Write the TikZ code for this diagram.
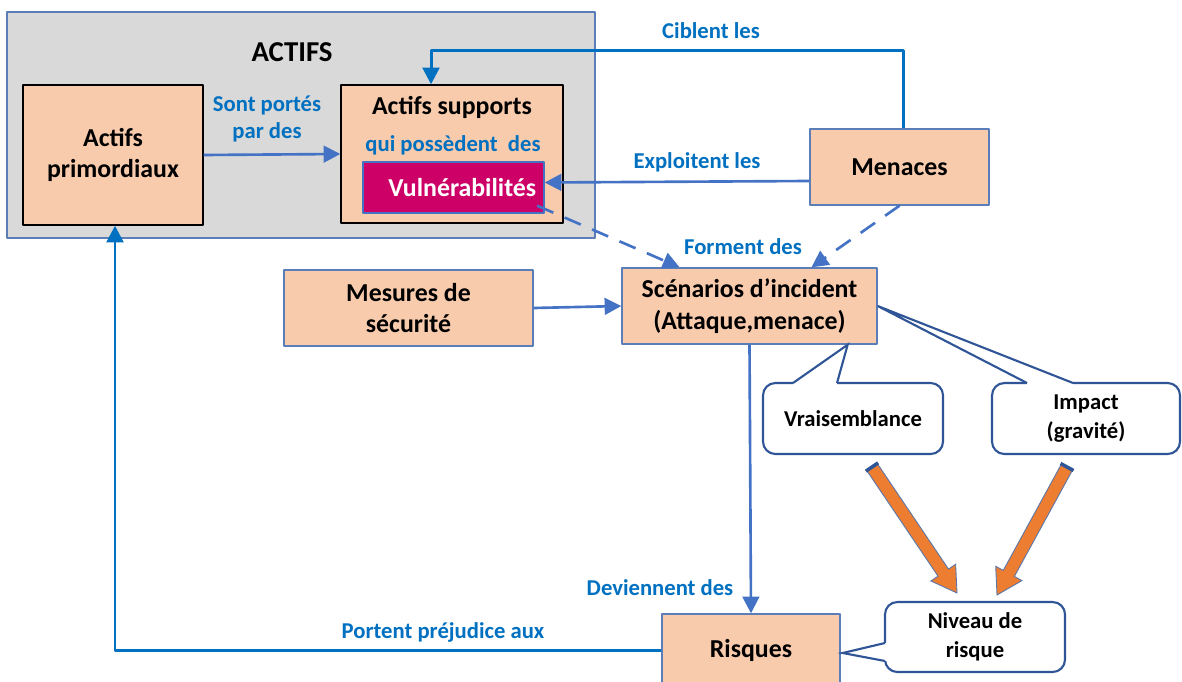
\documentclass[tikz,border=0pt]{standalone}
\usepackage{fontspec}
\setmainfont{Carlito}
\usetikzlibrary{arrows.meta,calc}
\definecolor{peach}{HTML}{F8CBAD}
\definecolor{grisbg}{HTML}{D9D9D9}
\definecolor{bordbleu}{HTML}{5B7DB8}
\definecolor{lienbleu}{HTML}{4472C4}
\definecolor{fortbleu}{HTML}{0070C0}
\definecolor{bullebleu}{HTML}{2F5597}
\definecolor{vulnrose}{HTML}{CC0066}
\definecolor{orangefl}{HTML}{ED7D31}

% fleche orange epaisse : depart, pointe
\newcommand{\fatarrow}[2]{%
  \coordinate (h) at ($(#2)!14pt!(#1)$);
  \filldraw[fill=orangefl, draw=bullebleu!80, line width=0.5pt, line join=miter]
    ($(#1)!3.6pt!-90:(#2)$) -- ($(h)!3.6pt!-90:(#2)$) -- ($(h)!8.5pt!-90:(#2)$) -- (#2)
    -- ($(h)!8.5pt!90:(#2)$) -- ($(h)!3.6pt!90:(#2)$) -- ($(#1)!3.6pt!90:(#2)$) -- cycle;
  \draw[bullebleu, line width=2pt] ($(#1)!4.2pt!-90:(#2)$) -- ($(#1)!4.2pt!90:(#2)$);
}
% pointe de bulle : base, pointe, base
\newcommand{\bulleptr}[3]{%
  \fill[white] (#1) -- (#2) -- (#3) -- cycle;
  \draw[white, line width=2pt] (#1) -- (#3);
  \draw[bullebleu, line width=1.2pt, line join=miter] (#1) -- (#2) -- (#3);
}

\begin{document}
\begin{tikzpicture}[x=0.02cm, y=-0.02cm, line join=bevel]
  \tikzstyle{box}=[draw=bordbleu, fill=peach, line width=0.8pt, align=center, inner sep=0pt, font=\fontsize{14.7}{18}\selectfont\bfseries]
  \tikzstyle{bulle}=[draw=bullebleu, fill=white, rounded corners=7pt, line width=1.2pt, align=center, inner sep=0pt, font=\fontsize{12.9}{16.4}\selectfont\bfseries]
  \tikzstyle{lbl}=[text=fortbleu, align=center, font=\fontsize{12.9}{15.3}\selectfont\bfseries]
  \tikzstyle{link}=[draw=lienbleu, line width=1.5pt, -{Triangle[length=9.5pt,width=9.5pt]}]
  \tikzstyle{linkf}=[draw=fortbleu, line width=1.7pt, -{Triangle[length=9.5pt,width=9.5pt]}]
  \tikzstyle{dlink}=[link, dash pattern=on 10pt off 7pt]
  \useasboundingbox (0,0) rectangle (1182,682);

  % groupe des actifs
  \node[draw=bordbleu, fill=grisbg, line width=0.8pt, minimum width=11.76cm, minimum height=4.52cm] (actifs) at (301,125) {};
  \node[font=\fontsize{16.4}{19}\selectfont\bfseries] (titre) at (292,52) {ACTIFS};
  \node[box, draw=black, minimum width=3.6cm, minimum height=2.8cm] (prim) at (113,155) {Actifs\\primordiaux};
  \node[box, draw=black, minimum width=4.44cm, minimum height=2.76cm] (supp) at (452,154) {};
  \node[font=\fontsize{14.7}{18}\selectfont\bfseries] (supt) at (452,107) {Actifs supports};
  \node[lbl] (poss) at (453,145) {qui possèdent\ \ des};
  \node[box, fill=vulnrose, draw=lienbleu, text=white, minimum width=3.62cm, minimum height=1.02cm] (vuln) at (453.5,187.5) {\hspace{10pt}Vulnérabilités};

  % autres blocs
  \node[box, minimum width=3.58cm, minimum height=1.52cm] (men) at (899.5,167) {Menaces};
  \node[box, minimum width=5.1cm, minimum height=1.52cm] (scen) at (749.5,306) {Scénarios d’incident\\(Attaque,menace)};
  \node[box, minimum width=4.98cm, minimum height=1.52cm] (mes) at (408.5,308) {Mesures de\\sécurité};
  \node[box, minimum width=3.56cm, minimum height=1.44cm] (risq) at (751,650) {Risques};

  % bulles
  \node[bulle, minimum width=3.6cm, minimum height=1.42cm] (vrai) at (853,418.5) {Vraisemblance};
  \node[bulle, minimum width=3.76cm, minimum height=1.42cm] (imp) at (1086,418.5) {Impact\\(gravité)};
  \node[bulle, minimum width=3.6cm, minimum height=1.4cm] (niv) at (975,637) {Niveau de\\risque};

  \coordinate (v1) at (793,383);
  \coordinate (v2) at (837,383);
  \coordinate (i1) at (1027,383);
  \coordinate (i2) at (1073,383);
  \coordinate (n1) at (885,643);
  \coordinate (n2) at (885,661);
  \bulleptr{v1}{$(scen.south east)+(-30,0)$}{v2}
  \bulleptr{i1}{scen.east}{i2}
  \bulleptr{n1}{$(risq.east)+(2,3)$}{n2}

  % liens
  \path (prim.east) edge[link] (supp.west)
        ([yshift=-0.28cm]men.west) edge[link] ([yshift=0.1cm]vuln.east)
        (mes.east) edge[link] (scen.west)
        (scen.south) edge[link] (risq.north)
        ([xshift=-0.15cm,yshift=0.16cm]vuln.south east) edge[dlink] ([xshift=-1.4cm]scen.north)
        (men.south) edge[dlink] ([xshift=1.24cm]scen.north);
  \draw[linkf] ([xshift=0.07cm]men.north) -- ++(0,-78) -| ([xshift=-0.42cm]supp.north);
  \draw[linkf] (risq.west) -| ([xshift=0.04cm]prim.south);

  % etiquettes des liens
  \node[lbl] (l1) at (267,119) {Sont portés\\par des};
  \node[lbl] (l2) at (711,31) {Ciblent les};
  \node[lbl] (l3) at (697,162) {Exploitent les};
  \node[lbl] (l4) at (743,247) {Forment des};
  \node[lbl] (l5) at (660,588) {Deviennent des};
  \node[lbl] (l6) at (443,632) {Portent préjudice aux};

  % fleches vers le niveau de risque
  \coordinate (o1) at (872,467);
  \coordinate (t1) at (957,593);
  \coordinate (o2) at (1067,467);
  \coordinate (t2) at (997,595);
  \fatarrow{o1}{t1}
  \fatarrow{o2}{t2}
\end{tikzpicture}
\end{document}
